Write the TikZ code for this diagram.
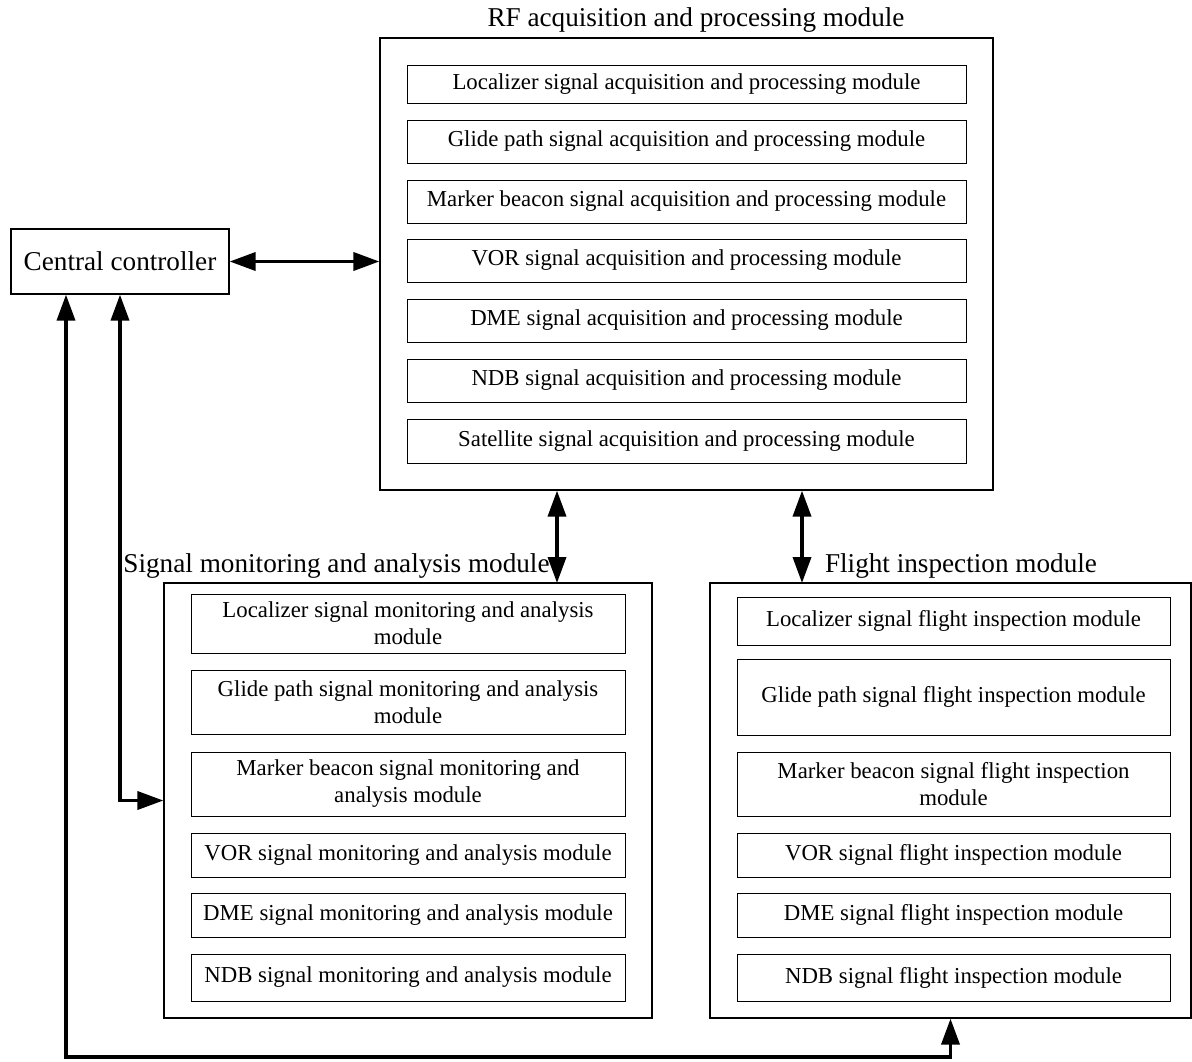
\documentclass[tikz,border=0pt]{standalone}
\usepackage{fontspec}
\setmainfont{Liberation Serif}
\usetikzlibrary{arrows.meta, positioning}

\tikzset{
    modbox/.style={draw, line width=0.5pt, align=center, inner sep=1pt, font=\fontsize{11.4}{13.5}\selectfont, minimum width=#1},
    outerbox/.style={draw, line width=0.6pt},
    titletext/.style={font=\fontsize{13.6}{15}\selectfont},
    link/.style={line width=1.8pt, {Triangle[length=13pt,width=9pt]}-{Triangle[length=13pt,width=9pt]}}
}

\begin{document}
\begin{tikzpicture}[x=0.5pt, y=-0.5pt]
    \useasboundingbox (0,0) rectangle (1192,1061);

    % Central controller
    \node[draw, line width=0.6pt, minimum width=109pt, minimum height=32.5pt, font=\fontsize{13.6}{15}\selectfont] (cc) at (120,261.5) {Central controller};

    % RF acquisition and processing module
    \node[outerbox, minimum width=306.5pt, minimum height=226pt] (rf) at (686.5,264) {};
    \node[titletext] (rftitle) at (696,20) {RF acquisition and processing module};
    \node[modbox=279.5pt, minimum height=19pt] (rf1) at (686.5,84) {Localizer signal acquisition and processing module};
    \node[modbox=279.5pt, minimum height=21.5pt] (rf2) at (686.5,141.5) {Glide path signal acquisition and processing module};
    \node[modbox=279.5pt, minimum height=21.5pt] (rf3) at (686.5,201.5) {Marker beacon signal acquisition and processing module};
    \node[modbox=279.5pt, minimum height=21.5pt] (rf4) at (686.5,260.5) {VOR signal acquisition and processing module};
    \node[modbox=279.5pt, minimum height=21.5pt] (rf5) at (686.5,320.5) {DME signal acquisition and processing module};
    \node[modbox=279.5pt, minimum height=21.5pt] (rf6) at (686.5,380.5) {NDB signal acquisition and processing module};
    \node[modbox=279.5pt, minimum height=22pt] (rf7) at (686.5,441) {Satellite signal acquisition and processing module};

    % Signal monitoring and analysis module
    \node[outerbox, minimum width=244pt, minimum height=217.5pt] (sm) at (408,800.5) {};
    \node[titletext] (smtitle) at (336.5,566) {Signal monitoring and analysis module};
    \node[modbox=217pt, minimum height=29.5pt] (sm1) at (408,623.5) {Localizer signal monitoring and analysis\\module};
    \node[modbox=217pt, minimum height=32pt] (sm2) at (408,702) {Glide path signal monitoring and analysis\\module};
    \node[modbox=217pt, minimum height=32pt] (sm3) at (408,784) {Marker beacon signal monitoring and\\analysis module};
    \node[modbox=217pt, minimum height=22pt] (sm4) at (408,855) {VOR signal monitoring and analysis module};
    \node[modbox=217pt, minimum height=22pt] (sm5) at (408,915) {DME signal monitoring and analysis module};
    \node[modbox=217pt, minimum height=23.5pt] (sm6) at (408,977.5) {NDB signal monitoring and analysis module};

    % Flight inspection module
    \node[outerbox, minimum width=240.5pt, minimum height=217.5pt] (fi) at (950.5,800.5) {};
    \node[titletext] (fititle) at (961,566) {Flight inspection module};
    \node[modbox=216.5pt, minimum height=24pt] (fi1) at (953.5,621) {Localizer signal flight inspection\ module};
    \node[modbox=216.5pt, minimum height=38pt] (fi2) at (953.5,697) {Glide path signal flight inspection\ module};
    \node[modbox=216.5pt, minimum height=32pt] (fi3) at (953.5,784) {Marker beacon signal flight inspection\\module};
    \node[modbox=216.5pt, minimum height=22pt] (fi4) at (953.5,855) {VOR signal flight inspection\ module};
    \node[modbox=216.5pt, minimum height=22pt] (fi5) at (953.5,915) {DME signal flight inspection\ module};
    \node[modbox=216.5pt, minimum height=23.5pt] (fi6) at (953.5,977.5) {NDB signal flight inspection\ module};

    % Connections
    \coordinate (smin) at (557,583);
    \coordinate (fiin) at (802,583);
    \coordinate (bus) at (66,1057);
    \draw[link] (cc.east) -- (cc.east -| rf.west);
    \draw[link] (smin |- rf.south) -- (smin);
    \draw[link] (fiin |- rf.south) -- (fiin);
    \draw[link] (cc.south) |- (sm.west);
    \draw[link] (bus |- cc.south) -- (bus) -| (fi.south);
\end{tikzpicture}
\end{document}
